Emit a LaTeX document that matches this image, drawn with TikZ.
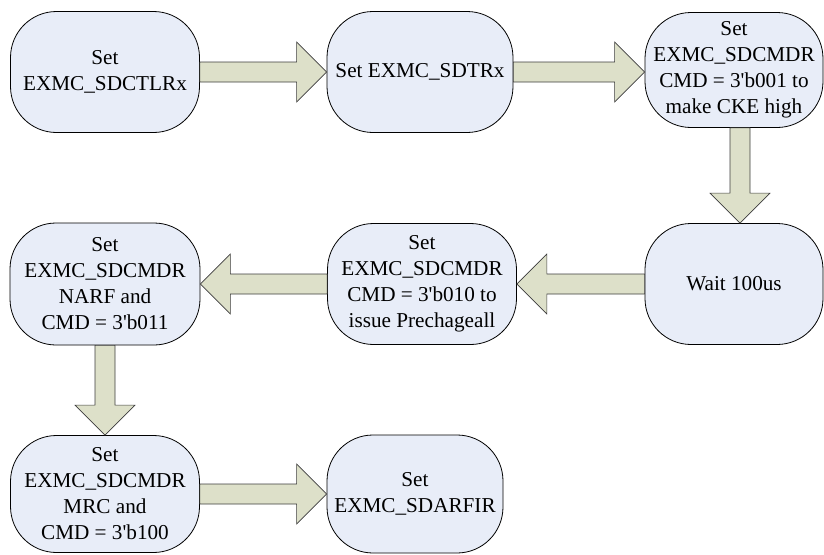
\documentclass[tikz,border=0pt]{standalone}
\usepackage{fontspec}
\setmainfont{Liberation Serif}
\usetikzlibrary{calc}

\definecolor{stepfill}{RGB}{232,237,248}
\definecolor{flowfill}{RGB}{221,224,201}
\definecolor{flowline}{RGB}{60,60,60}

% fat block arrow from one anchor to another
\newcommand{\flowarrow}[2]{%
  \draw[flow] let \p1=(#1), \p2=(#2),
      \n1={atan2(\y2-\y1,\x2-\x1)}, \n2={veclen(\x2-\x1,\y2-\y1)} in
    [shift={(\p1)}, rotate=\n1]
    (0pt,-10pt) -- (\n2-30pt,-10pt) -- (\n2-30pt,-30pt) -- (\n2,0pt)
    -- (\n2-30pt,30pt) -- (\n2-30pt,10pt) -- (0pt,10pt) -- cycle;}

\begin{document}
\begin{tikzpicture}[x=1pt, y=-1pt,
  stepbox/.style={draw=black, fill=stepfill, line width=0.8pt, rounded corners=46pt,
                  minimum width=188pt, minimum height=121pt, inner sep=0pt, align=center,
                  font=\fontsize{21.2}{26}\selectfont},
  flow/.style={draw=flowline, fill=flowfill, line width=0.6pt},
]
  \useasboundingbox (0,0) rectangle (824,554);

  % first row
  \node[stepbox, minimum width=189pt]                       (ctlr)  at (105,72)  {Set\\EXMC\_SDCTLRx};
  \node[stepbox, minimum width=186pt]                       (tr)    at (420,72)  {Set EXMC\_SDTRx};
  \node[stepbox, minimum width=178pt, minimum height=115pt] (cke)   at (734,70)  {Set\\EXMC\_SDCMDR\\CMD = 3\textquotesingle b001 to\\make CKE high};

  % second row
  \node[stepbox, minimum width=178pt]                       (wait)  at (734,284) {Wait 100us};
  \node[stepbox, minimum width=189pt]                       (pall)  at (422,284) {Set\\EXMC\_SDCMDR\\CMD = 3\textquotesingle b010 to\\issue Prechageall};
  \node[stepbox, minimum width=190pt, minimum height=122pt] (narf)  at (105,284) {Set\\EXMC\_SDCMDR\\NARF and\\CMD = 3\textquotesingle b011};

  % third row
  \node[stepbox, minimum width=189pt, minimum height=117pt] (mrc)   at (105,494) {Set\\EXMC\_SDCMDR\\MRC and\\CMD = 3\textquotesingle b100};
  \node[stepbox, minimum width=176pt, minimum height=118pt] (arfir) at (415,494) {Set\\EXMC\_SDARFIR};

  % arrows
  \flowarrow{ctlr.east}{tr.west}
  \flowarrow{tr.east}{tr.east -| cke.west}
  \flowarrow{[xshift=6pt]cke.south}{[xshift=6pt]wait.north}
  \flowarrow{wait.west}{pall.east}
  \flowarrow{pall.west}{narf.east}
  \flowarrow{narf.south}{mrc.north}
  \flowarrow{mrc.east}{arfir.west}
\end{tikzpicture}
\end{document}
